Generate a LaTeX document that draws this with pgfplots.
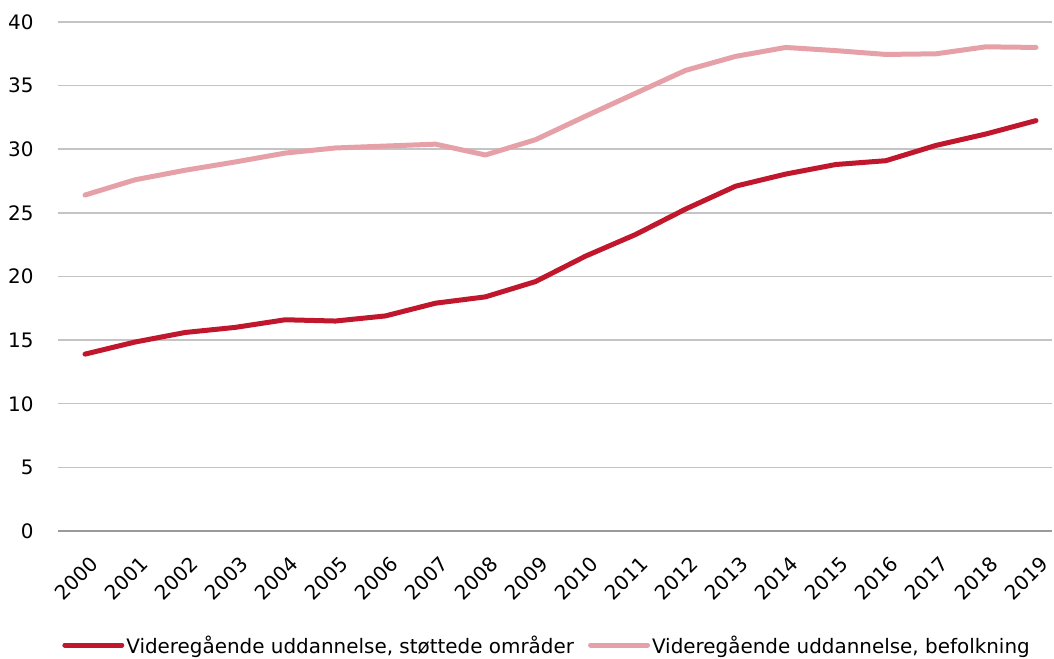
\documentclass[border=0pt]{standalone}
\usepackage{pgfplots}
\pgfplotsset{compat=1.18}
\usepackage{fontspec}
\setmainfont{DejaVu Sans}
\definecolor{darkred}{HTML}{C0172D}
\definecolor{pinkred}{HTML}{E6A1A8}
\definecolor{gridgray}{HTML}{C4C4C4}
\definecolor{axisgray}{HTML}{9A9A9A}
\begin{document}
\begin{tikzpicture}
\path[use as bounding box] (-58bp,-128bp) rectangle (996bp,531bp);
\begin{axis}[
  scale only axis,
  width=994bp, height=509bp,
  xmin=1999.46, xmax=2019.32,
  ymin=0, ymax=40,
  ytick={0,5,...,40},
  xtick={2000,...,2019},
  xticklabel style={rotate=45, anchor=east, font=\fontsize{20}{24}\selectfont, xshift=-11bp, yshift=-27bp},
  yticklabel style={font=\fontsize{20}{24}\selectfont, xshift=-21bp},
  /pgf/number format/assume math mode=true,
  /pgf/number format/1000 sep={},
  axis line style={draw=none},
  axis x line*=bottom,
  ymajorgrids,
  grid style={gridgray, line width=1.5bp},
  major tick length=0pt,
  tick style={draw=none},
  clip=false,
  legend style={draw=none, at={(0.492,-0.224)}, anchor=center, font=\fontsize{20}{24}\selectfont, /tikz/every even column/.append style={column sep=12bp}},
  legend columns=2,
  legend cell align=left,
  legend image code/.code={\draw[#1, line width=5bp, line cap=round] (0bp,0bp) -- (57bp,0bp);},
]
\addplot[darkred, line width=5bp, line cap=round, line join=round] coordinates {
(2000,13.9) (2001,14.85) (2002,15.6) (2003,16.0) (2004,16.6) (2005,16.5) (2006,16.9) (2007,17.9) (2008,18.4) (2009,19.6) (2010,21.6) (2011,23.3) (2012,25.3) (2013,27.1) (2014,28.05) (2015,28.8) (2016,29.1) (2017,30.3) (2018,31.2) (2019,32.25)
};
\addlegendentry{Videregående uddannelse, støttede områder}
\addplot[pinkred, line width=5bp, line cap=round, line join=round] coordinates {
(2000,26.4) (2001,27.6) (2002,28.35) (2003,29.0) (2004,29.7) (2005,30.1) (2006,30.25) (2007,30.4) (2008,29.55) (2009,30.75) (2010,32.6) (2011,34.4) (2012,36.2) (2013,37.3) (2014,38.0) (2015,37.75) (2016,37.45) (2017,37.5) (2018,38.05) (2019,38.0)
};
\addlegendentry{Videregående uddannelse, befolkning}
\draw[axisgray, line width=1.5bp] (rel axis cs:0,0) -- (rel axis cs:1,0);
\end{axis}
\end{tikzpicture}
\end{document}
